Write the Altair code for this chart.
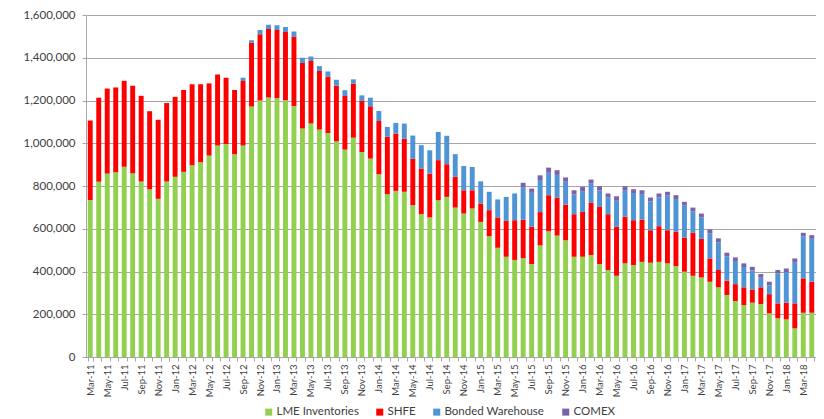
import altair as alt
import pandas as pd

months = [
    "Mar-11", "Apr-11", "May-11", "Jun-11", "Jul-11", "Aug-11", "Sep-11", "Oct-11", "Nov-11", "Dec-11",
    "Jan-12", "Feb-12", "Mar-12", "Apr-12", "May-12", "Jun-12", "Jul-12", "Aug-12", "Sep-12", "Oct-12", "Nov-12", "Dec-12",
    "Jan-13", "Feb-13", "Mar-13", "Apr-13", "May-13", "Jun-13", "Jul-13", "Aug-13", "Sep-13", "Oct-13", "Nov-13", "Dec-13",
    "Jan-14", "Feb-14", "Mar-14", "Apr-14", "May-14", "Jun-14", "Jul-14", "Aug-14", "Sep-14", "Oct-14", "Nov-14", "Dec-14",
    "Jan-15", "Feb-15", "Mar-15", "Apr-15", "May-15", "Jun-15", "Jul-15", "Aug-15", "Sep-15", "Oct-15", "Nov-15", "Dec-15",
    "Jan-16", "Feb-16", "Mar-16", "Apr-16", "May-16", "Jun-16", "Jul-16", "Aug-16", "Sep-16", "Oct-16", "Nov-16", "Dec-16",
    "Jan-17", "Feb-17", "Mar-17", "Apr-17", "May-17", "Jun-17", "Jul-17", "Aug-17", "Sep-17", "Oct-17", "Nov-17", "Dec-17",
    "Jan-18", "Feb-18", "Mar-18", "Apr-18",
]

# thousand tonnes
lme = [
    734, 820, 858, 865, 890, 859, 821, 784, 740, 821,
    843, 866, 897, 911, 942, 990, 997, 949, 990, 1172, 1200, 1214,
    1210, 1201, 1174, 1069, 1092, 1064, 1048, 1009, 970, 1026, 959, 928,
    855, 762, 777, 773, 710, 668, 653, 734, 749, 699, 671, 695,
    632, 565, 511, 469, 454, 462, 435, 522, 588, 568, 546, 469,
    469, 477, 435, 407, 380, 438, 430, 445, 441, 445, 438, 425,
    399, 380, 372, 352, 326, 290, 262, 243, 254, 248, 204, 181,
    176, 134, 207, 207,
]
shfe = [
    373, 393, 398, 396, 402, 410, 401, 366, 370, 367,
    374, 383, 379, 365, 338, 332, 309, 300, 301, 298, 310, 321,
    320, 319, 326, 306, 293, 274, 264, 260, 251, 253, 239, 245,
    249, 268, 268, 249, 218, 214, 205, 187, 153, 144, 109, 85,
    86, 122, 142, 168, 186, 180, 175, 156, 169, 178, 167, 199,
    210, 244, 267, 261, 229, 218, 210, 198, 152, 167, 155, 161,
    159, 201, 181, 109, 81, 67, 79, 83, 62, 78, 90, 70,
    78, 117, 161, 145,
]
bonded = [
    0, 0, 0, 0, 0, 0, 0, 0, 0, 0,
    0, 0, 0, 0, 0, 0, 0, 0, 16, 12, 20, 19,
    22, 24, 23, 25, 21, 23, 24, 28, 27, 20, 26, 40,
    47, 46, 50, 70, 108, 109, 109, 132, 133, 106, 114, 109,
    104, 86, 84, 112, 125, 150, 158, 150, 105, 106, 107, 92,
    97, 90, 78, 79, 125, 125, 127, 119, 135, 135, 162, 153,
    150, 100, 100, 118, 130, 114, 108, 95, 89, 45, 41, 139,
    143, 193, 196, 201,
]
comex = [
    0, 0, 0, 0, 0, 0, 0, 0, 0, 0,
    0, 0, 0, 0, 0, 0, 0, 0, 0, 0, 0, 0,
    0, 0, 0, 0, 0, 0, 0, 0, 0, 0, 0, 0,
    0, 0, 0, 0, 0, 0, 0, 0, 0, 0, 0, 0,
    0, 0, 0, 0, 0, 23, 20, 22, 24, 22, 20, 20,
    20, 19, 19, 18, 18, 18, 18, 18, 18, 18, 18, 18,
    18, 18, 18, 18, 18, 17, 17, 17, 17, 17, 17, 17,
    17, 17, 17, 17,
]

series = ["LME Inventories", "SHFE", "Bonded Warehouse", "COMEX"]
colors = ["#92D050", "#FF0000", "#4F94D4", "#7E62A8"]
y_ticks = [0, 200000, 400000, 600000, 800000, 1000000, 1200000, 1400000, 1600000]

rows = []
for i, m in enumerate(months):
    for k, vals in enumerate([lme, shfe, bonded, comex]):
        rows.append({"month": m, "series": series[k], "order": k, "value": vals[i] * 1000})
df = pd.DataFrame(rows)

label_expr = ("isString(datum.label) && indexof(['Jan','Mar','May','Jul','Sep','Nov'], "
              "substring(datum.label, 0, 3)) >= 0 ? datum.label : ''")

FONT = "Lato"

chart = alt.Chart(df).mark_bar().encode(
    x=alt.X(
        "month:N", sort=months, title=None,
        scale=alt.Scale(paddingInner=0.42, paddingOuter=0.21),
        axis=alt.Axis(
            labelAngle=-90, labelExpr=label_expr, tickBand="extent", tickSize=4,
            labelFontSize=9.5, labelColor="#404040", labelFont=FONT, labelPadding=3,
            domainColor="#A6A6A6", tickColor="#A6A6A6", grid=False,
        ),
    ),
    y=alt.Y(
        "value:Q", title=None, stack="zero",
        scale=alt.Scale(domain=[0, 1600000], nice=False),
        axis=alt.Axis(
            values=y_ticks, format=",.0f", labelFontSize=11.5, labelColor="#404040", labelFont=FONT,
            tickSize=4, labelPadding=7, domainColor="#A6A6A6", tickColor="#A6A6A6",
            gridColor="#A6A6A6", gridWidth=1,
        ),
    ),
    color=alt.Color(
        "series:N", sort=series,
        scale=alt.Scale(domain=series, range=colors),
        legend=alt.Legend(
            orient="none", legendX=177, legendY=391, direction="horizontal", title=None,
            symbolType="square", symbolSize=49, symbolStrokeWidth=0, labelOffset=2,
            labelFontSize=11.5, labelFont=FONT, labelColor="#404040", columnPadding=15,
        ),
    ),
    order=alt.Order("order:Q"),
).properties(
    width=730, height=342,
    autosize=alt.AutoSizeParams(type="none"),
    padding={"left": 78, "top": 7, "right": 0, "bottom": 62},
).configure_view(stroke=None)

chart.save("out.html", embed_options={"renderer": "svg", "actions": False})
